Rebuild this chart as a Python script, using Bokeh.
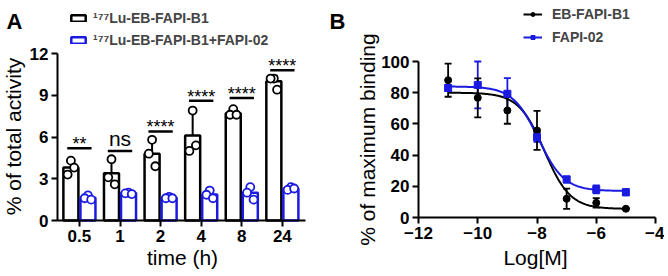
import numpy as np
from bokeh.plotting import figure
from bokeh.models import (ColumnDataSource, Range1d, FixedTicker, Whisker, TeeHead,
                          Legend, LegendItem, Label)
from bokeh.layouts import row
from bokeh.embed import file_html
from bokeh.resources import INLINE
from bokeh.core.properties import value

# ---------------- Panel A data ----------------
times = ["0.5", "1", "2", "4", "8", "24"]
b1_mean = [3.8, 3.4, 4.8, 6.1, 7.7, 10.0]
b1_sd = [0.6, 1.0, 1.1, 1.9, 0.3, 0.4]
b1_pts = [[4.3, 3.3, 3.8], [4.4, 3.1, 2.6], [5.8, 4.8, 3.9],
          [7.9, 5.0, 5.4], [8.0, 7.6, 7.6], [10.2, 10.2, 9.4]]
blk_mean = [1.63, 1.97, 1.63, 1.87, 2.0, 2.3]
blk_sd = [0.15, 0.05, 0.08, 0.25, 0.4, 0.1]
blk_pts = [[1.8, 1.6, 1.5], [2.0, 1.95, 1.9], [1.7, 1.6, 1.6],
           [2.15, 1.85, 1.6], [2.4, 2.0, 1.5], [2.4, 2.2, 2.3]]
sig_labels = ["**", "ns", "****", "****", "****", "****"]
sig_y = [5.2, 5.0, 6.4, 8.6, 8.8, 10.8]
yticks_A = [0, 3, 6, 9, 12]

# ---------------- Panel B data ----------------
logm = [-11, -10, -9, -8, -7, -6, -5]
eb_mean = [88, 76.7, 68.6, 55.8, 12, 9.4, 5.6]
eb_sd = [10.6, 12.5, 8.5, 12.5, 6.5, 3.0, 0.5]
fapi_mean = [83, 85, 79.3, 51.5, 24.4, 18, 16.2]
fapi_sd = [2, 15, 10, 3, 2, 2.5, 2]
eb_fit = {"top": 80.0, "bottom": 5.5, "logic50": -7.75}
fapi_fit = {"top": 84.0, "bottom": 17.0, "logic50": -7.95}
xticks_B = [-12, -10, -8, -6, -4]
yticks_B = [0, 20, 40, 60, 80, 100]

BLUE = "#1a1ae0"
BLACK = "#000000"
FONT = "Liberation Sans"

# ---------------- layout geometry (picture pixels) ----------------
A_X0, A_W, TOP, H = 0, 326, 0, 270
B_X0, B_W = A_X0 + A_W, 338
# frame A: data x -0.54..5.57 at px 57..305 ; y 0..12 at px 220..53
A_FX = (-0.54, 57, 5.57, 305)
A_FY = (0, 220, 12, 53)
# frame B: data x -12..-4 at px 418..655 ; y 0..100 at px 217..61
B_FX = (-12, 418, -4, 655)
B_FY = (0, 217, 100, 61)


def mapper(spec):
    d0, p0, d1, p1 = spec
    k = (d1 - d0) / (p1 - p0)
    return lambda p: d0 + (p - p0) * k


axA, ayA = mapper(A_FX), mapper(A_FY)
axB, ayB = mapper(B_FX), mapper(B_FY)


def make_fig(x0, w, fx, fy):
    return figure(width=w, height=H, output_backend="svg", toolbar_location=None,
                  x_range=Range1d(fx(x0), fx(x0 + w)), y_range=Range1d(fy(TOP + H), fy(TOP)),
                  min_border_left=0, min_border_right=0, min_border_top=0, min_border_bottom=0)


def style_axes(p, xloc, yloc, xb, yb):
    for ax in (p.xaxis[0], p.yaxis[0]):
        ax.axis_line_width = 2
        ax.major_tick_line_width = 2
        ax.major_tick_out = 6
        ax.major_tick_in = 0
        ax.minor_tick_line_color = None
        ax.major_label_text_font = FONT
        ax.major_label_text_font_style = "bold"
        ax.major_label_text_font_size = "17px"
        ax.major_label_text_color = "black"
        ax.major_label_standoff = 3
    p.xaxis[0].fixed_location = xloc
    p.yaxis[0].fixed_location = yloc
    p.xaxis[0].bounds = xb
    p.yaxis[0].bounds = yb
    p.grid.visible = False
    p.outline_line_color = None
    p.background_fill_color = "white"
    p.border_fill_color = "white"


def add_label(p, x, y, text, size, bold=False, angle=0.0, align="center"):
    p.add_layout(Label(x=x, y=y, text=text, angle=angle, text_align=align,
                       text_baseline="middle", text_font=FONT,
                       text_font_style="bold" if bold else "normal",
                       text_font_size=size, text_color="black"))


# ---------------- Figure A ----------------
n = len(times)
xs = np.arange(n)
off = 0.21
bw = 0.37
pA = make_fig(A_X0, A_W, axA, ayA)
style_axes(pA, 0, A_FX[0], (A_FX[0], A_FX[2]), (0, 12))
pA.xaxis.ticker = FixedTicker(ticks=list(range(n)))
pA.xaxis.major_label_overrides = {i: t for i, t in enumerate(times)}
pA.yaxis.ticker = FixedTicker(ticks=yticks_A)

srcA = ColumnDataSource(dict(x1=xs - off, x2=xs + off, m1=b1_mean, m2=blk_mean,
                             u1=np.array(b1_mean) + np.array(b1_sd),
                             u2=np.array(blk_mean) + np.array(blk_sd)))
bar1 = pA.vbar(x="x1", top="m1", width=bw, source=srcA, fill_color="white",
               line_color=BLACK, line_width=2.5)
bar2 = pA.vbar(x="x2", top="m2", width=bw, source=srcA, fill_color="white",
               line_color=BLUE, line_width=2.5)
pA.add_layout(Whisker(base="x1", lower="m1", upper="u1", source=srcA, line_color=BLACK,
                      line_width=2, lower_head=None,
                      upper_head=TeeHead(size=8, line_color=BLACK, line_width=2)))
pA.add_layout(Whisker(base="x2", lower="m2", upper="u2", source=srcA, line_color=BLUE,
                      line_width=2, lower_head=None,
                      upper_head=TeeHead(size=8, line_color=BLUE, line_width=2)))

jit = [0.0, -0.08, 0.08]
px1, py1, px2, py2 = [], [], [], []
for i in range(n):
    for j in range(3):
        px1.append(xs[i] - off + jit[j]); py1.append(b1_pts[i][j])
        px2.append(xs[i] + off + jit[j]); py2.append(blk_pts[i][j])
pA.scatter(px1, py1, marker="circle", size=8, fill_color="white", line_color=BLACK, line_width=1.8)
pA.scatter(px2, py2, marker="circle", size=8, fill_color="white", line_color=BLUE, line_width=1.8)

pA.segment(x0=xs - 0.3, x1=xs + 0.3, y0=sig_y, y1=sig_y, line_color="black", line_width=2.5)
sig_off = [-4 if s.startswith("*") else -12 for s in sig_labels]
sig_size = ["18px" if s.startswith("*") else "21px" for s in sig_labels]
pA.text(x=list(xs), y=sig_y, text=sig_labels, y_offset=sig_off, text_align="center",
        text_baseline="middle", text_font=value(FONT), text_font_size=sig_size,
        text_color="black")

legA = Legend(items=[LegendItem(label="\u00b9\u2077\u2077Lu-EB-FAPI-B1", renderers=[bar1]),
                     LegendItem(label="\u00b9\u2077\u2077Lu-EB-FAPI-B1+FAPI-02", renderers=[bar2])],
              location=(69 - A_X0, TOP + H - 51), padding=0, margin=0, spacing=0, label_height=22,
              glyph_width=18, glyph_height=8, label_standoff=6,
              label_text_font=FONT, label_text_font_style="bold",
              label_text_font_size="14px", background_fill_alpha=0, border_line_color=None)
pA.add_layout(legA, "center")
add_label(pA, axA(6), ayA(21), "A", "22px", bold=True, align="left")
add_label(pA, axA(13), ayA(136), "% of total activity", "21px", angle=np.pi / 2)
add_label(pA, axA(182), ayA(257), "time (h)", "21px")

# ---------------- Figure B ----------------
pB = make_fig(B_X0, B_W, axB, ayB)
style_axes(pB, 0, B_FX[0], (B_FX[0], B_FX[2]), (0, 100))
pB.xaxis.ticker = FixedTicker(ticks=xticks_B)
pB.yaxis.ticker = FixedTicker(ticks=yticks_B)

xfit = np.linspace(min(logm), max(logm), 200)


def curve(f):
    return f["bottom"] + (f["top"] - f["bottom"]) / (1 + 10 ** (xfit - f["logic50"]))


srcB = ColumnDataSource(dict(x=logm, em=eb_mean, el=np.array(eb_mean) - np.array(eb_sd),
                             eu=np.array(eb_mean) + np.array(eb_sd),
                             fm=fapi_mean, fl=np.array(fapi_mean) - np.array(fapi_sd),
                             fu=np.array(fapi_mean) + np.array(fapi_sd)))
lb = pB.line(xfit, curve(eb_fit), line_color=BLACK, line_width=2)
lf = pB.line(xfit, curve(fapi_fit), line_color=BLUE, line_width=2)
pB.add_layout(Whisker(base="x", lower="fl", upper="fu", source=srcB, line_color=BLUE, line_width=1.8,
                      lower_head=TeeHead(size=7, line_color=BLUE, line_width=1.8),
                      upper_head=TeeHead(size=7, line_color=BLUE, line_width=1.8)))
pB.add_layout(Whisker(base="x", lower="el", upper="eu", source=srcB, line_color=BLACK, line_width=1.8,
                      lower_head=TeeHead(size=7, line_color=BLACK, line_width=1.8),
                      upper_head=TeeHead(size=7, line_color=BLACK, line_width=1.8)))
sb = pB.scatter("x", "em", source=srcB, marker="circle", size=7, color=BLACK)
sf = pB.scatter("x", "fm", source=srcB, marker="square", size=7, color=BLUE)

legB = Legend(items=[LegendItem(label="EB-FAPI-B1", renderers=[lb, sb]),
                     LegendItem(label="FAPI-02", renderers=[lf, sf])],
              location=(523 - B_X0, TOP + H - 48), padding=0, margin=0, spacing=1, label_height=22,
              glyph_width=19, glyph_height=10, label_standoff=10,
              label_text_font=FONT, label_text_font_style="bold",
              label_text_font_size="14px", background_fill_alpha=0, border_line_color=None)
pB.add_layout(legB, "center")
add_label(pB, axB(329), ayB(21), "B", "22px", bold=True, align="left")
add_label(pB, axB(366.5), ayB(139), "% of maximum binding", "21px", angle=np.pi / 2)
add_label(pB, axB(535), ayB(257), "Log[M]", "21px")

layout = row(pA, pB)
open("out.html", "w").write(file_html(layout, INLINE))
